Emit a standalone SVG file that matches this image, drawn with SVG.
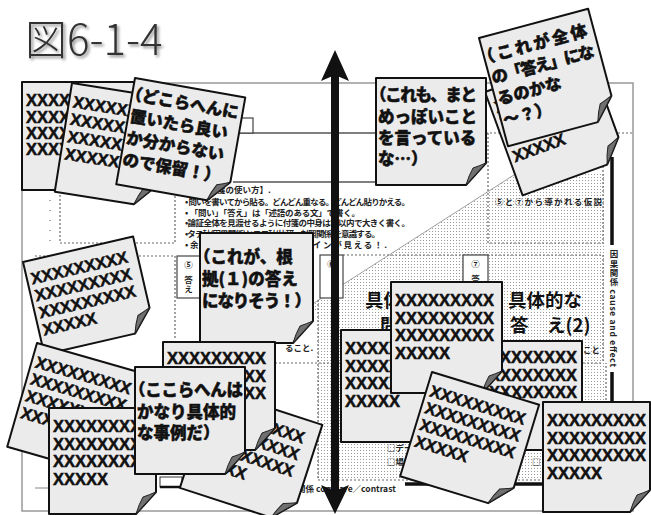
<svg xmlns="http://www.w3.org/2000/svg" width="651" height="515" viewBox="0 0 651 515">
<style>
.note{fill:#ebebeb;stroke:#111;stroke-width:2;stroke-linejoin:round}
.fold{fill:#707070;stroke:#222;stroke-width:1;stroke-linejoin:round}
.x{font-family:"Liberation Sans",Arial,sans-serif;font-weight:bold;font-size:16.5px;fill:#111;stroke:#111;stroke-width:0.5}
.jp{font-family:"Noto Sans CJK JP","Noto Sans",sans-serif;font-weight:900;font-size:16.5px;fill:#111;stroke:#111;stroke-width:0.5}
.sm{font-family:"Noto Sans CJK JP","Noto Sans",sans-serif;font-weight:700;font-size:8.5px;fill:#222}
.dash{fill:none;stroke:#666;stroke-width:1.2;stroke-dasharray:2 2}
.frame{fill:none;stroke:#999;stroke-width:1.5}
.solid{fill:none;stroke:#555;stroke-width:1.3}
.box{fill:#fff;stroke:#444;stroke-width:1.2}
</style>
<defs>
<pattern id="dots" width="3" height="3" patternUnits="userSpaceOnUse"><rect width="1" height="1" fill="#9a9a9a"/></pattern>
<filter id="shadow" x="-10%" y="-10%" width="130%" height="140%">
<feGaussianBlur in="SourceAlpha" stdDeviation="1.5"/>
<feOffset dx="2" dy="2" result="b"/>
<feComponentTransfer><feFuncA type="linear" slope="0.45"/></feComponentTransfer>
<feMerge><feMergeNode/><feMergeNode in="SourceGraphic"/></feMerge>
</filter>
</defs>
<rect width="651" height="515" fill="#fff"/>

<g id="title" filter="url(#shadow)">
<text x="25" y="55" font-family="'Noto Sans CJK JP','Noto Sans',sans-serif" font-weight="300" font-size="42" fill="#333">図6-1-4</text>
</g>

<g id="sheet">
<rect class="frame" x="22" y="83" width="611" height="428"/>
<path d="M300,312 L517,173 L606,173 L606,480 L318,480 L318,312 Z" fill="url(#dots)"/>
<line x1="300" y1="312" x2="517" y2="173" stroke="#888" stroke-width="0.8"/>
<line class="solid" x1="233" y1="133" x2="486" y2="133"/>
<line class="dash" x1="486" y1="133" x2="633" y2="133"/>
<line class="solid" x1="233" y1="182" x2="376" y2="182"/>
<rect class="box" x="238" y="118" width="15" height="15"/>
<path class="dash" d="M488,133 V243 H603 V133"/>
<text class="sm" x="495" y="205" font-size="9.5" textLength="107">⑤と⑦から導かれる仮説</text>
<path class="dash" d="M60,195 V243 H175 V195"/>
<line x1="50" y1="200" x2="50" y2="245" stroke="#777" stroke-width="1.2" stroke-dasharray="1 9"/>
<path class="dash" d="M35,256 H175 V340"/>
<path class="dash" d="M343,255 H603 V363"/>
<line class="dash" x1="275" y1="363" x2="603" y2="363"/>
<path class="dash" d="M318,300 V480 H606 V363"/>
<rect class="box" x="177" y="256" width="23" height="42"/>
<text class="sm" x="188.5" y="268" text-anchor="middle">⑤</text>
<text class="sm" x="188.5" y="276" writing-mode="vertical-rl">答え</text>
<rect class="box" x="320" y="255" width="23" height="43"/>
<text class="sm" x="331.5" y="267" text-anchor="middle">⑥</text>
<rect class="box" x="463" y="255" width="25" height="40"/>
<text class="sm" x="475.5" y="267" text-anchor="middle">⑦</text>
<text class="sm" x="475.5" y="275" writing-mode="vertical-rl">答え</text>
<text font-family="'Noto Sans CJK JP',sans-serif" font-weight="700" font-size="18.5" fill="#111"><tspan x="365" y="307">具体的な</tspan><tspan x="380" y="332">問　い(2)</tspan></text>
<text font-family="'Noto Sans CJK JP',sans-serif" font-weight="700" font-size="18.5" fill="#111"><tspan x="508" y="307">具体的な</tspan><tspan x="510" y="332">答　え(2)</tspan></text>
<text class="sm" x="285" y="351">ること.</text>
<text class="sm" x="583" y="353">こと</text>
<text class="sm" x="387" y="451" font-size="8">□データ</text>
<text class="sm" x="387" y="465" font-size="8">□場合</text>
<text class="sm" x="532" y="465" font-size="8">□</text>
<text class="sm" x="200" y="193">【付箋の使い方】.</text>
<text class="sm" x="185" y="205" textLength="225">• 問いを書いてから貼る。どんどん重なる。どんどん貼りかえる。</text>
<text class="sm" x="185" y="216" textLength="175">• 「問い」「答え」は「述語のある文」で書く。</text>
<text class="sm" x="185" y="226" textLength="225">•論証全体を見渡せるように付箋の中身は字以内で大きく書く。</text>
<text class="sm" x="185" y="237" textLength="195">•タテ軸(因果関係)とヨコ軸(比較・対照関係)を意識する。</text>
<text class="sm" x="185" y="248" textLength="202">•余白に書き込むとアウトラインが見える！.</text>
<line x1="612" y1="157" x2="612" y2="245" stroke="#111" stroke-width="3.5"/>
<line x1="612" y1="372" x2="612" y2="484" stroke="#111" stroke-width="3.5"/>
<line x1="405" y1="484" x2="612" y2="484" stroke="#111" stroke-width="3.5"/>
<text class="sm" x="614" y="250" font-size="9.5" writing-mode="vertical-rl" textLength="117">因果関係 cause and effect</text>
<text class="sm" x="297" y="492" font-size="9">関係 compare／contrast</text>
<line x1="35" y1="488" x2="50" y2="488" stroke="#999" stroke-width="1.2"/>
<rect x="160" y="477" width="22" height="10" fill="#fff" stroke="#333" stroke-width="1"/>
<line x1="160" y1="487" x2="182" y2="487" stroke="#111" stroke-width="2.5"/>
</g>

<g id="note-a" transform="translate(22,82)">
<path class="note" d="M0,0H112V86L92,108H0Z"/><path class="fold" d="M92,108Q95,98 99,91Q105,89 112,86Z"/>
<text class="x"><tspan x="4" y="24">XXXXXXXXX</tspan><tspan x="4" y="41">XXXXXXXXX</tspan><tspan x="4" y="57">XXXXXXXXX</tspan><tspan x="4" y="73">XXXXX</tspan></text>
</g>
<g id="note-b" transform="translate(72,83) rotate(9)">
<path class="note" d="M0,0H100V88L80,110H0Z"/><path class="fold" d="M80,110Q83,100 87,93Q93,91 100,88Z"/>
<text class="x"><tspan x="4" y="24">XXXXXXXX</tspan><tspan x="4" y="41.5">XXXXXXXX</tspan><tspan x="4" y="59">XXXXXXXX</tspan><tspan x="4" y="76.5">XXXXX</tspan></text>
</g>
<g id="note-c" transform="translate(135,78) rotate(10)">
<path class="note" d="M0,0H112V86L92,108H0Z"/><path class="fold" d="M92,108Q95,98 99,91Q105,89 112,86Z"/>
<text class="jp"><tspan x="-6" y="22" textLength="114">（どこらへんに</tspan><tspan x="2" y="44">置いたら良い</tspan><tspan x="2" y="66">か分からない</tspan><tspan x="2" y="88">ので保留！）</tspan></text>
</g>
<g id="note-e" transform="translate(485,92) rotate(-20)">
<path class="note" d="M0,0H110V88L90,110H0Z"/><path class="fold" d="M90,110Q93,100 97,93Q103,91 110,88Z"/>
<text class="x"><tspan x="4" y="24">XXXXXXXXX</tspan><tspan x="4" y="41.5">XXXXXXXXX</tspan><tspan x="4" y="59">XXXXXXXXX</tspan><tspan x="4" y="76.5">XXXXX</tspan></text>
</g>
<g id="note-f" transform="translate(479,38) rotate(-15)">
<path class="note" d="M0,0H113V90L93,112H0Z"/><path class="fold" d="M93,112Q96,102 100,95Q106,93 113,90Z"/>
<text class="jp"><tspan x="-6" y="26" textLength="112">（これが全体</tspan><tspan x="2" y="48" textLength="106">の「答え」にな</tspan><tspan x="2" y="70">るのかな</tspan><tspan x="2" y="92">～？）</tspan></text>
</g>
<g id="note-d" transform="translate(376,78)">
<path class="note" d="M0,0H110V85L90,107H0Z"/><path class="fold" d="M90,107Q93,97 97,90Q103,88 110,85Z"/>
<text class="jp"><tspan x="-6" y="23" textLength="107">（これも、まと</tspan><tspan x="2" y="45">めっぽいこと</tspan><tspan x="2" y="66">を言っている</tspan><tspan x="2" y="87">な…）</tspan></text>
</g>
<g id="note-g" transform="translate(200,233)">
<path class="note" d="M0,0H113V88L93,110H0Z"/><path class="fold" d="M93,110Q96,100 100,93Q106,91 113,88Z"/>
<text class="jp"><tspan x="-6" y="30">（これが、根</tspan><tspan x="2" y="52">拠(１)の答え</tspan><tspan x="2" y="74" textLength="109">になりそう！）</tspan></text>
</g>
<g id="note-h" transform="translate(23,262) rotate(-13)">
<path class="note" d="M0,0H113V73L93,95H0Z"/><path class="fold" d="M93,95Q96,85 100,78Q106,76 113,73Z"/>
<text class="x"><tspan x="4" y="24">XXXXXXXXX</tspan><tspan x="4" y="41.5">XXXXXXXXX</tspan><tspan x="4" y="59">XXXXXXXXX</tspan><tspan x="4" y="76.5">XXXXX</tspan></text>
</g>
<g id="note-i" transform="translate(37,343) rotate(16)">
<path class="note" d="M0,0H118V86L98,108H0Z"/><path class="fold" d="M98,108Q101,98 105,91Q111,89 118,86Z"/>
<text class="x"><tspan x="4" y="24">XXXXXXXXX</tspan><tspan x="4" y="41.5">XXXXXXXXX</tspan><tspan x="4" y="59">XXXXXXXXX</tspan><tspan x="4" y="76.5">XXXXX</tspan></text>
</g>
<g id="note-l" transform="translate(49,408)">
<path class="note" d="M0,0H107V84L87,106H0Z"/><path class="fold" d="M87,106Q90,96 94,89Q100,87 107,84Z"/>
<text class="x"><tspan x="4" y="24">XXXXXXXXX</tspan><tspan x="4" y="41.5">XXXXXXXXX</tspan><tspan x="4" y="59">XXXXXXXXX</tspan><tspan x="4" y="76.5">XXXXX</tspan></text>
</g>
<g id="note-m" transform="translate(212,389) rotate(18)">
<path class="note" d="M0,0H116V82L96,104H0Z"/><path class="fold" d="M96,104Q99,94 103,87Q109,85 116,82Z"/>
<text class="x"><tspan x="4" y="24">XXXXXXXXX</tspan><tspan x="4" y="41.5">XXXXXXXXX</tspan><tspan x="4" y="59">XXXXXXXXX</tspan><tspan x="4" y="76.5">XXXXX</tspan></text>
</g>
<g id="note-j" transform="translate(163,342)">
<path class="note" d="M0,0H112V86L92,108H0Z"/><path class="fold" d="M92,108Q95,98 99,91Q105,89 112,86Z"/>
<text class="x"><tspan x="4" y="22">XXXXXXXXX</tspan><tspan x="4" y="39.5">XXXXXXXXX</tspan><tspan x="4" y="57">XXXXXXXXX</tspan><tspan x="4" y="74.5">XXXXX</tspan></text>
</g>
<g id="note-k" transform="translate(135,367)">
<path class="note" d="M0,0H110V85L90,107H0Z"/><path class="fold" d="M90,107Q93,97 97,90Q103,88 110,85Z"/>
<text class="jp"><tspan x="-6" y="29" textLength="114">（ここらへんは</tspan><tspan x="2" y="51">かなり具体的</tspan><tspan x="2" y="72">な事例だ）</tspan></text>
</g>
<g id="note-o" transform="translate(341,330)">
<path class="note" d="M0,0H110V90L90,112H0Z"/><path class="fold" d="M90,112Q93,102 97,95Q103,93 110,90Z"/>
<text class="x"><tspan x="4" y="24">XXXXXXXXX</tspan><tspan x="4" y="41.5">XXXXXXXXX</tspan><tspan x="4" y="59">XXXXXXXXX</tspan><tspan x="4" y="76.5">XXXXX</tspan></text>
</g>
<g id="note-p" transform="translate(474,341)">
<path class="note" d="M0,0H108V87L88,109H0Z"/><path class="fold" d="M88,109Q91,99 95,92Q101,90 108,87Z"/>
<text class="x"><tspan x="4" y="22">XXXXXXXXX</tspan><tspan x="4" y="39.5">XXXXXXXXX</tspan><tspan x="4" y="57">XXXXXXXXX</tspan><tspan x="4" y="74.5">XXXXX</tspan></text>
</g>
<g id="note-n" transform="translate(391,282)">
<path class="note" d="M0,0H111V89L91,111H0Z"/><path class="fold" d="M91,111Q94,101 98,94Q104,92 111,89Z"/>
<text class="x"><tspan x="4" y="24">XXXXXXXXX</tspan><tspan x="4" y="41.5">XXXXXXXXX</tspan><tspan x="4" y="59">XXXXXXXXX</tspan><tspan x="4" y="76.5">XXXXX</tspan></text>
</g>
<g id="note-q" transform="translate(432,372) rotate(17)">
<path class="note" d="M0,0H112V87L92,109H0Z"/><path class="fold" d="M92,109Q95,99 99,92Q105,90 112,87Z"/>
<text class="x"><tspan x="4" y="24">XXXXXXXXX</tspan><tspan x="4" y="41.5">XXXXXXXXX</tspan><tspan x="4" y="59">XXXXXXXXX</tspan><tspan x="4" y="76.5">XXXXX</tspan></text>
</g>
<g id="note-r" transform="translate(543,402)">
<path class="note" d="M0,0H107V88L87,110H0Z"/><path class="fold" d="M87,110Q90,100 94,93Q100,91 107,88Z"/>
<text class="x"><tspan x="4" y="24">XXXXXXXXX</tspan><tspan x="4" y="41.5">XXXXXXXXX</tspan><tspan x="4" y="59">XXXXXXXXX</tspan><tspan x="4" y="76.5">XXXXX</tspan></text>
</g>

<g id="connectors">
<rect x="331" y="74" width="8" height="418" fill="#111"/>
<polygon points="335,50 321,81 335,75 349,81" fill="#111"/>
<polygon points="335,514 321,485 335,491 349,485" fill="#111"/>
</g>
</svg>
